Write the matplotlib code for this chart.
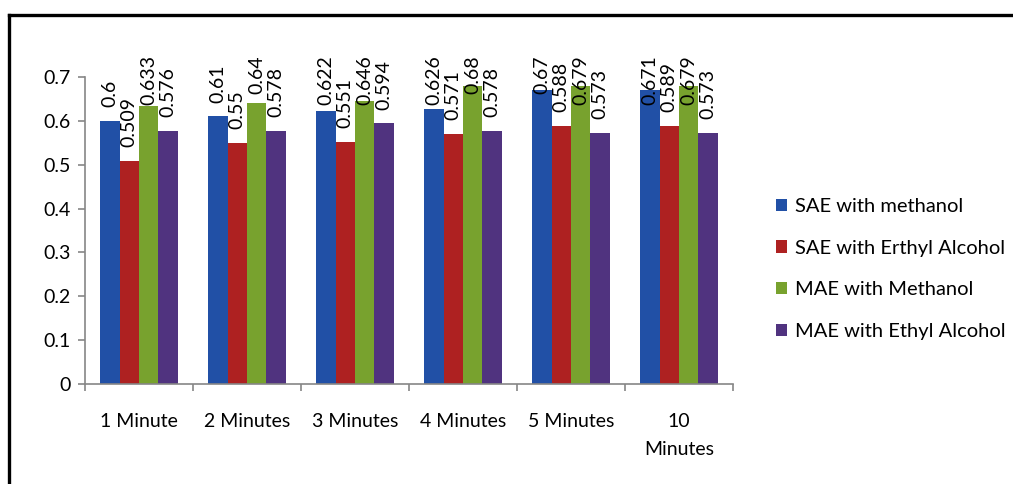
import matplotlib
matplotlib.use("Agg")
import matplotlib.pyplot as plt
from matplotlib.patches import Patch
from matplotlib.lines import Line2D
import numpy as np

plt.rcParams['font.family'] = ['Lato', 'DejaVu Sans']

# extraction time groups
categories = ['1 Minute', '2 Minutes', '3 Minutes', '4 Minutes', '5 Minutes', '10\nMinutes']
series_names = ['SAE with methanol', 'SAE with Erthyl Alcohol',
                'MAE with Methanol', 'MAE with Ethyl Alcohol']
sae_methanol = [0.6, 0.61, 0.622, 0.626, 0.67, 0.671]
sae_ethyl = [0.509, 0.55, 0.551, 0.571, 0.588, 0.589]
mae_methanol = [0.633, 0.64, 0.646, 0.68, 0.679, 0.679]
mae_ethyl = [0.576, 0.578, 0.594, 0.578, 0.573, 0.573]
label_text = [
    ['0.6', '0.61', '0.622', '0.626', '0.67', '0.671'],
    ['0.509', '0.55', '0.551', '0.571', '0.588', '0.589'],
    ['0.633', '0.64', '0.646', '0.68', '0.679', '0.679'],
    ['0.576', '0.578', '0.594', '0.578', '0.573', '0.573'],
]
colors = ['#2150A6', '#AE2121', '#78A22E', '#50337F']

W, H = 1013, 484
fig = plt.figure(figsize=(W / 100, H / 100), dpi=100)
ax = fig.add_axes([85 / W, 1 - 384 / H, (733 - 85) / W, (384 - 77) / H])

x = np.arange(len(categories))
bw = 0.179
data = [sae_methanol, sae_ethyl, mae_methanol, mae_ethyl]
anns = []
for i, vals in enumerate(data):
    xs = x + (i - 1.5) * bw
    ax.bar(xs, vals, width=bw, color=colors[i], linewidth=0)
    for xx, v, t in zip(xs, vals, label_text[i]):
        a = ax.annotate(t, (xx, v), xytext=(0, 10), textcoords='offset points',
                        rotation=90, ha='center', va='bottom', fontsize=14,
                        color='black', annotation_clip=False)
        anns.append(a)

ax.set_xlim(-0.5, len(categories) - 0.5)
ax.set_ylim(0, 0.7)
ax.set_yticks(np.arange(0, 0.71, 0.1))
ax.set_yticklabels(['0', '0.1', '0.2', '0.3', '0.4', '0.5', '0.6', '0.7'])

# category boundaries get the tick marks, centres get the labels
ax.set_xticks(np.arange(-0.5, len(categories), 1))
ax.set_xticklabels([])
ax.set_xticks(x, minor=True)
ax.set_xticklabels(categories, minor=True, fontsize=14, linespacing=1.8, va='top')
ax.tick_params(axis='x', which='minor', length=0, pad=21)
ax.tick_params(axis='x', which='major', length=5, color='#868686', width=1.2)
ax.tick_params(axis='y', length=5, color='#868686', width=1.2, labelsize=14, pad=5)

for s in ['top', 'right']:
    ax.spines[s].set_visible(False)
for s in ['left', 'bottom']:
    ax.spines[s].set_color('#868686')
    ax.spines[s].set_linewidth(1.2)

# keep the rotated labels inside the chart area at the top
fig.canvas.draw()
r = fig.canvas.get_renderer()
limit = H - 55
for a in anns:
    bb = a.get_window_extent(r)
    if bb.y1 > limit:
        dx, dy = a.xyann
        a.xyann = (dx, dy - (bb.y1 - limit) * 72 / 100)

handles = [Patch(facecolor=c, edgecolor='none') for c in colors]
fig.legend(handles, series_names, loc='upper left',
           bbox_to_anchor=(776 / W, 1 - 198 / H), frameon=False, fontsize=14.5,
           handlelength=0.55, handleheight=0.55, handletextpad=0.4,
           labelspacing=1.22, borderpad=0, borderaxespad=0)

# chart border
fig.add_artist(Line2D([9 / W, 1], [1 - 15 / H, 1 - 15 / H], color='black', lw=2.4,
                      transform=fig.transFigure))
fig.add_artist(Line2D([9 / W, 9 / W], [0, 1 - 15 / H], color='black', lw=2.4,
                      transform=fig.transFigure))

fig.savefig('out.png', dpi=100)
